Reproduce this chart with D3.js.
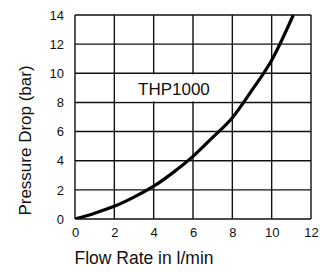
<!DOCTYPE html>
<html><head><meta charset="utf-8">
<script src="https://cdn.jsdelivr.net/npm/d3@7"></script>
<style>html,body{margin:0;padding:0;background:#fff;}svg{display:block;}text{font-family:"Liberation Sans",Arial,Helvetica,sans-serif;fill:#111;}</style>
</head><body>
<svg id="c" width="320" height="272"></svg>
<script>
const flowRate = [0, 1, 2, 3, 4, 5, 6, 7, 8, 9, 10, 11.1];
const pressureDrop = [0, 0.4, 0.87, 1.5, 2.25, 3.2, 4.3, 5.6, 6.95, 8.85, 10.9, 14];
const xTicks = [0, 2, 4, 6, 8, 10, 12];
const yTicks = [0, 2, 4, 6, 8, 10, 12, 14];
const seriesLabel = "THP1000";
const xTitle = "Flow Rate in l/min";
const yTitle = "Pressure Drop (bar)";

const svg = d3.select("#c");
const L = 75, R = 311, T = 15, B = 219;
const x = d3.scaleLinear().domain([0, 12]).range([L, R]);
const y = d3.scaleLinear().domain([0, 14]).range([B, T]);

const g = svg.append("g");
// grid
g.selectAll("line.v").data(xTicks).enter().append("line")
  .attr("x1", d => x(d)).attr("x2", d => x(d)).attr("y1", T).attr("y2", B)
  .attr("stroke", "#111").attr("stroke-width", 1.4);
g.selectAll("line.h").data(yTicks).enter().append("line")
  .attr("y1", d => y(d)).attr("y2", d => y(d)).attr("x1", L).attr("x2", R)
  .attr("stroke", "#111").attr("stroke-width", 1.4);

// label box
g.append("rect").attr("x", x(2) + 1).attr("y", y(10) + 1)
  .attr("width", x(8) - x(2) - 2).attr("height", y(8) - y(10) - 2).attr("fill", "#fff");
g.append("text").attr("x", 138).attr("y", 95).attr("text-anchor", "start")
  .attr("font-size", 17).text(seriesLabel);

// curve
svg.append("clipPath").attr("id", "clip").append("rect").attr("x", L).attr("y", T).attr("width", R - L).attr("height", B - T);
const line = d3.line().x((d, i) => x(flowRate[i])).y(d => y(d)).curve(d3.curveMonotoneX);
svg.append("path").attr("d", line(pressureDrop)).attr("fill", "none")
  .attr("stroke", "#000").attr("stroke-width", 3.2).attr("clip-path", "url(#clip)");

// axes labels
svg.append("g").attr("transform", `translate(0,${B})`)
  .call(d3.axisBottom(x).tickValues(xTicks).tickSize(0).tickPadding(9).tickFormat(d3.format("d")))
  .call(a => a.select(".domain").remove())
  .call(a => a.selectAll("text").attr("font-size", 13).attr("font-family", null).attr("fill", "#111"));
svg.append("g").attr("transform", `translate(${L},0)`)
  .call(d3.axisLeft(y).tickValues(yTicks).tickSize(0).tickPadding(11).tickFormat(d3.format("d")))
  .call(a => a.select(".domain").remove())
  .call(a => a.selectAll("text").attr("font-size", 13).attr("font-family", null).attr("fill", "#111"));

svg.append("text").attr("x", 144).attr("y", 264).attr("text-anchor", "middle")
  .attr("font-size", 17.5).attr("fill", "#333").text(xTitle);
svg.append("text").attr("transform", "translate(31,140.5) rotate(-90)").attr("text-anchor", "middle")
  .attr("font-size", 17).attr("fill", "#333").text(yTitle);
</script>
</body></html>
